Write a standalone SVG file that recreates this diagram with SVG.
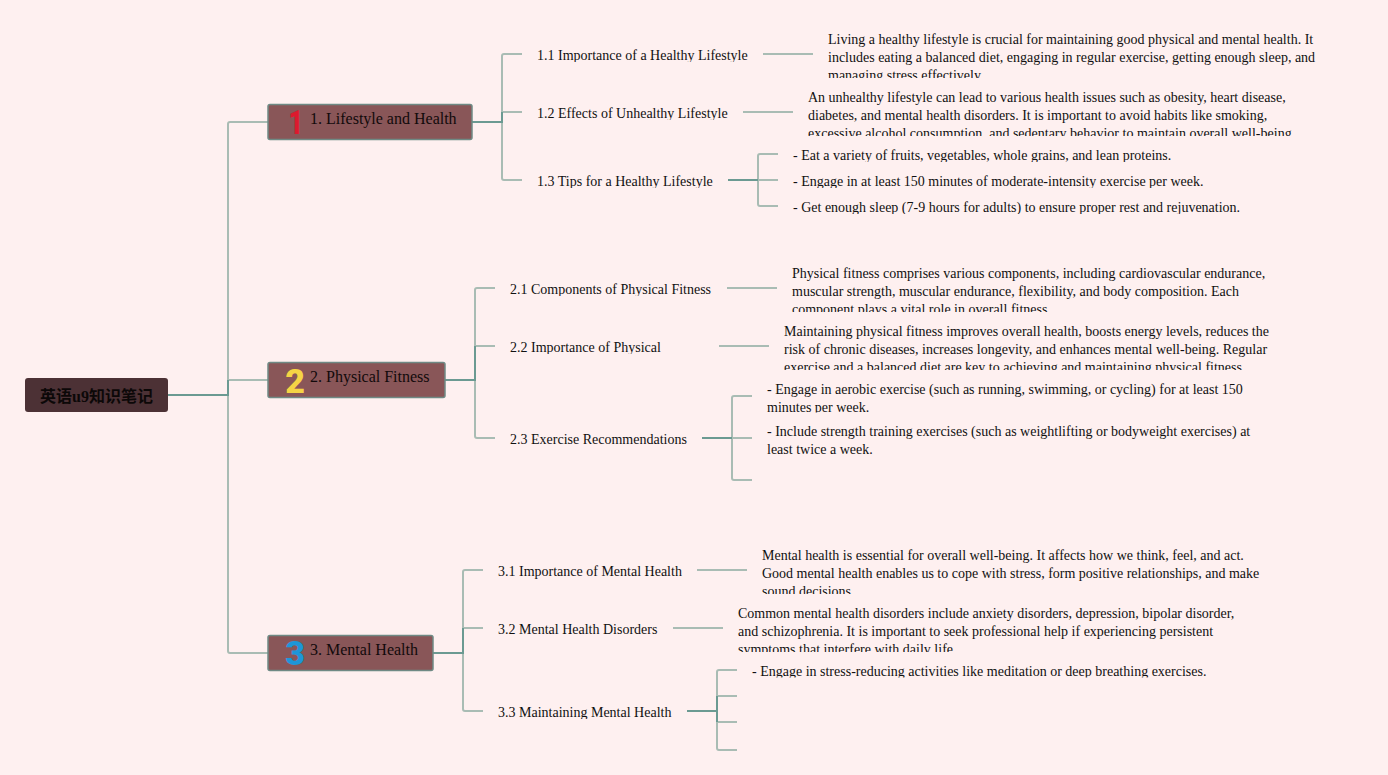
<svg xmlns="http://www.w3.org/2000/svg" width="1388" height="775" viewBox="0 0 1388 775">
<style>
text{font-family:"Liberation Serif","Noto Sans CJK SC",serif;fill:#111;font-size:14px}
.t{font-size:16px;fill:#120a0b}
.r{font-size:16px;font-weight:bold;fill:#0c0808}
.i{font-family:"Roboto","Liberation Sans",sans-serif;font-size:34px;font-weight:900;text-anchor:middle}
.i1{fill:#dc1a2e}
.i2{fill:#f5d445}
.i3{fill:#1e96d8}
.box{fill:#895658;stroke:#6f8a85;stroke-width:1.5}
.l{fill:none;stroke:#a9bcb4;stroke-width:2}
.d{fill:none;stroke:#6b9a92;stroke-width:2}
</style>
<defs>
<clipPath id="c1"><rect x="820" y="30" width="510" height="48"/></clipPath>
<clipPath id="c2"><rect x="800" y="88" width="510" height="48"/></clipPath>
<clipPath id="c3"><rect x="785" y="264" width="500" height="48"/></clipPath>
<clipPath id="c4"><rect x="775" y="322" width="510" height="48"/></clipPath>
<clipPath id="c5"><rect x="760" y="380" width="500" height="32.500"/></clipPath>
<clipPath id="c6"><rect x="755" y="546" width="520" height="48"/></clipPath>
<clipPath id="c7"><rect x="730" y="604" width="520" height="48"/></clipPath>
<clipPath id="s11"><rect x="530" y="45" width="230" height="17"/></clipPath>
<clipPath id="s12"><rect x="530" y="103" width="210" height="17"/></clipPath>
<clipPath id="s13"><rect x="530" y="171" width="195" height="17"/></clipPath>
<clipPath id="s131"><rect x="785" y="145" width="400" height="17"/></clipPath>
<clipPath id="s132"><rect x="785" y="171" width="430" height="17"/></clipPath>
<clipPath id="s133"><rect x="785" y="197" width="470" height="17"/></clipPath>
<clipPath id="s21"><rect x="505" y="279" width="215" height="17"/></clipPath>
<clipPath id="s22"><rect x="505" y="337" width="205" height="17"/></clipPath>
<clipPath id="s23"><rect x="505" y="429" width="195" height="17"/></clipPath>
<clipPath id="s33"><rect x="490" y="702" width="195" height="17"/></clipPath>
<clipPath id="s331"><rect x="745" y="661" width="480" height="16.500"/></clipPath>
</defs>
<rect width="1388" height="775" fill="#fef0f0"/>
<g id="connectors">
<path class="l" d="M228 395V124Q228 122 230 122H268M228 380H268M228 395V651Q228 653 230 653H268"/>
<path class="d" d="M168 395H228V380"/>
<path class="l" d="M502 122V56Q502 54 504 54H522M502 112H522M502 122V178Q502 180 504 180H522"/>
<path class="d" d="M472 122H502V112"/>
<path class="l" d="M763 54H813M743 112H793"/>
<path class="l" d="M758 180V156Q758 154 760 154H778M758 180H778M758 180V204Q758 206 760 206H778"/>
<path class="d" d="M728 180H758"/>
<path class="l" d="M475 380V290Q475 288 477 288H495M475 346H495M475 380V436Q475 438 477 438H495"/>
<path class="d" d="M445 380H475V346"/>
<path class="l" d="M727 288H777M719 346H769"/>
<path class="l" d="M732 438V398Q732 396 734 396H752M732 438H752M732 438V478Q732 480 734 480H752"/>
<path class="d" d="M702 438H732"/>
<path class="l" d="M463 653V572Q463 570 465 570H483M463 628H483M463 653V709Q463 711 465 711H483"/>
<path class="d" d="M433 653H463V628"/>
<path class="l" d="M697 570H747M673 628H723"/>
<path class="l" d="M717 711V672Q717 670 719 670H737M717 696H737M717 722H737M717 711V748Q717 750 719 750H737"/>
<path class="d" d="M687 711H717M717 696V722"/>
</g>
<g id="root"><rect x="25" y="378" width="143" height="34" rx="3" fill="#4c3135"/><text class="r" x="40" y="402">英语u9知识笔记</text></g>
<g id="t1"><rect class="box" x="268" y="104.500" width="204" height="35" rx="2"/><text class="i i1" transform="translate(296 133.500) scale(.75 1)">1</text><text class="t" x="310" y="124">1. Lifestyle and Health</text></g>
<g id="t2"><rect class="box" x="268" y="362.500" width="177" height="35" rx="2"/><text class="i i2" x="295" y="392.500">2</text><text class="t" x="310" y="382">2. Physical Fitness</text></g>
<g id="t3"><rect class="box" x="268" y="635.500" width="165" height="35" rx="2"/><text class="i i3" x="295" y="665">3</text><text class="t" x="310" y="655">3. Mental Health</text></g>
<g id="n11" clip-path="url(#s11)"><text x="537" y="60">1.1 Importance of a Healthy Lifestyle</text></g>
<g id="n12" clip-path="url(#s12)"><text x="537" y="118">1.2 Effects of Unhealthy Lifestyle</text></g>
<g id="n13" clip-path="url(#s13)"><text x="537" y="186">1.3 Tips for a Healthy Lifestyle</text></g>
<g id="n111" clip-path="url(#c1)"><text x="828" y="44">Living a healthy lifestyle is crucial for maintaining good physical and mental health. It</text><text x="828" y="62">includes eating a balanced diet, engaging in regular exercise, getting enough sleep, and</text><text x="828" y="80">managing stress effectively.</text></g>
<g id="n121" clip-path="url(#c2)"><text x="808" y="102">An unhealthy lifestyle can lead to various health issues such as obesity, heart disease,</text><text x="808" y="120">diabetes, and mental health disorders. It is important to avoid habits like smoking,</text><text x="808" y="138">excessive alcohol consumption, and sedentary behavior to maintain overall well-being.</text></g>
<g id="n131" clip-path="url(#s131)"><text x="793" y="160">- Eat a variety of fruits, vegetables, whole grains, and lean proteins.</text></g>
<g id="n132" clip-path="url(#s132)"><text x="793" y="186">- Engage in at least 150 minutes of moderate-intensity exercise per week.</text></g>
<g id="n133" clip-path="url(#s133)"><text x="793" y="212">- Get enough sleep (7-9 hours for adults) to ensure proper rest and rejuvenation.</text></g>
<g id="n21" clip-path="url(#s21)"><text x="510" y="294">2.1 Components of Physical Fitness</text></g>
<g id="n22" clip-path="url(#s22)"><text x="510" y="352">2.2 Importance of Physical</text></g>
<g id="n23" clip-path="url(#s23)"><text x="510" y="444">2.3 Exercise Recommendations</text></g>
<g id="n211" clip-path="url(#c3)"><text x="792" y="278">Physical fitness comprises various components, including cardiovascular endurance,</text><text x="792" y="296">muscular strength, muscular endurance, flexibility, and body composition. Each</text><text x="792" y="314">component plays a vital role in overall fitness.</text></g>
<g id="n221" clip-path="url(#c4)"><text x="784" y="336">Maintaining physical fitness improves overall health, boosts energy levels, reduces the</text><text x="784" y="354">risk of chronic diseases, increases longevity, and enhances mental well-being. Regular</text><text x="784" y="372">exercise and a balanced diet are key to achieving and maintaining physical fitness.</text></g>
<g id="n231" clip-path="url(#c5)"><text x="767" y="394">- Engage in aerobic exercise (such as running, swimming, or cycling) for at least 150</text><text x="767" y="412">minutes per week.</text></g>
<g id="n232"><text x="767" y="436">- Include strength training exercises (such as weightlifting or bodyweight exercises) at</text><text x="767" y="454">least twice a week.</text></g>
<g id="n31"><text x="498" y="576">3.1 Importance of Mental Health</text></g>
<g id="n32"><text x="498" y="634">3.2 Mental Health Disorders</text></g>
<g id="n33" clip-path="url(#s33)"><text x="498" y="717">3.3 Maintaining Mental Health</text></g>
<g id="n311" clip-path="url(#c6)"><text x="762" y="560">Mental health is essential for overall well-being. It affects how we think, feel, and act.</text><text x="762" y="578">Good mental health enables us to cope with stress, form positive relationships, and make</text><text x="762" y="596">sound decisions.</text></g>
<g id="n321" clip-path="url(#c7)"><text x="738" y="618">Common mental health disorders include anxiety disorders, depression, bipolar disorder,</text><text x="738" y="636">and schizophrenia. It is important to seek professional help if experiencing persistent</text><text x="738" y="654">symptoms that interfere with daily life.</text></g>
<g id="n331" clip-path="url(#s331)"><text x="752" y="676">- Engage in stress-reducing activities like meditation or deep breathing exercises.</text></g>
</svg>
